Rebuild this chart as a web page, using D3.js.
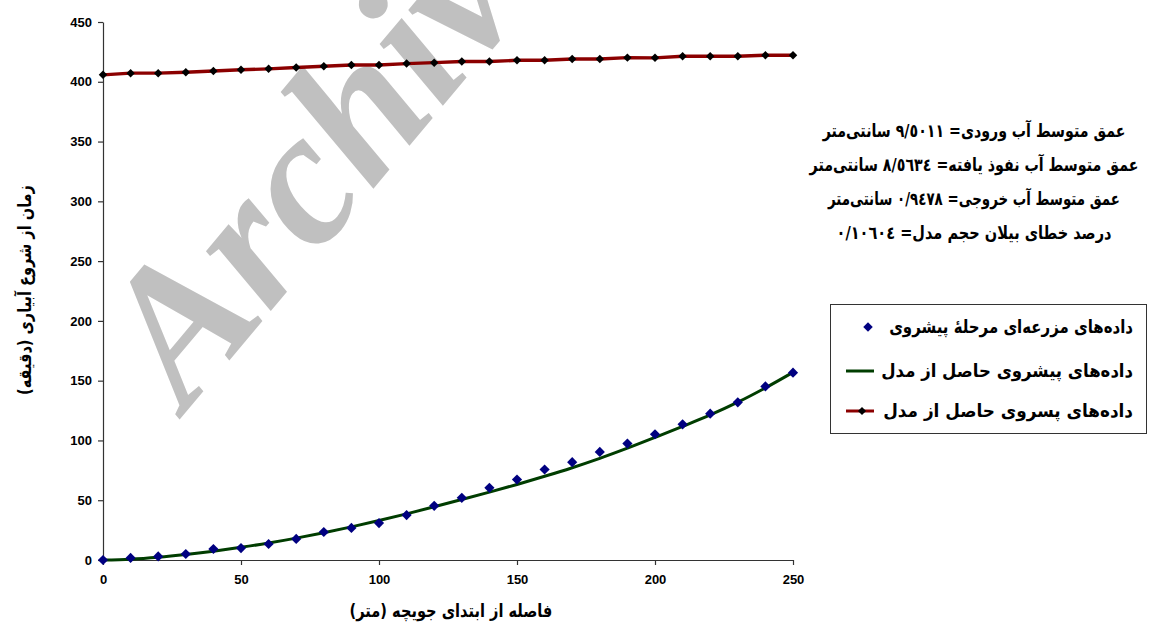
<!DOCTYPE html>
<html lang="fa">
<head>
<meta charset="UTF-8" />
<title>Advance and recession</title>
<script src="https://cdn.jsdelivr.net/npm/d3@7"></script>
<style>
  body { margin: 0; background: #fff; }
  svg { display: block; }
  .tick text { font-family: "Liberation Sans", Arial, sans-serif; font-weight: bold; font-size: 13px; fill: #000; }
  .fa { font-family: "DejaVu Sans", sans-serif; font-weight: bold; fill: #000; }
</style>
</head>
<body>
<svg id="chart"></svg>
<script>
// distance along the furrow (m)
var distance = [0, 10, 20, 30, 40, 50, 60, 70, 80, 90, 100, 110, 120, 130, 140, 150, 160, 170, 180, 190, 200, 210, 220, 230, 240, 250];
// measured advance (min)
var fieldAdvance = [0, 1.7, 3, 5, 9.2, 10, 13.4, 17.6, 23.4, 26.8, 30.9, 37.6, 45.3, 52, 60.4, 67.3, 75.7, 81.8, 90.4, 97.4, 105.2, 113.5, 122.4, 131.9, 145.2, 156.7];
// model advance (min)
var modelAdvance = [0, 0.7, 2.3, 4.6, 7.4, 10.6, 14.2, 18.3, 22.8, 27.7, 33, 38.6, 44.5, 50.6, 56.8, 63.2, 70, 77.2, 85, 93.5, 102.5, 111.7, 121.3, 132, 144, 157];
// model recession (min)
var modelRecession = [405.8, 407.2, 407.2, 408, 409, 410, 410.8, 411.9, 413, 414, 414, 415.2, 416, 416.9, 416.9, 418, 418, 419.1, 419, 420.2, 420, 421.4, 421.4, 421.4, 422.2, 422.2];

var xTicks = [0, 50, 100, 150, 200, 250];
var yTicks = [0, 50, 100, 150, 200, 250, 300, 350, 400, 450];

var statLines = [
  "عمق متوسط آب ورودی= ٩/٥٠١١ سانتی‌متر",
  "عمق متوسط آب نفوذ یافته= ٨/٥٦٣٤ سانتی‌متر",
  "عمق متوسط آب خروجی= ٠/٩٤٧٨ سانتی‌متر",
  "درصد خطای بیلان حجم مدل= ٠/١٠٦٠٤"
];
var legendLabels = [
  "داده‌های مزرعه‌ای مرحلهٔ پیشروی",
  "داده‌های پیشروی حاصل از مدل",
  "داده‌های پسروی حاصل از مدل"
];
var xTitle = "فاصله از ابتدای جویچه (متر)";
var yTitle = "زمان از شروع آبیاری (دقیقه)";

var width = 1164, height = 629;
var svg = d3.select("#chart").attr("width", width).attr("height", height);

var x = d3.scaleLinear().domain([0, 250]).range([103, 793]);
var y = d3.scaleLinear().domain([0, 450]).range([560, 22]);

// squeeze a text sideways so it spans the wanted width, keeping its height
function squeeze(node, pre, target) {
  var w = node.getComputedTextLength();
  d3.select(node).attr("transform", pre + " scale(" + (target / w) + ",1)");
}

// watermark
svg.append("text")
  .attr("transform", "translate(186,412) rotate(-50)")
  .style("font-family", "'Liberation Serif', 'Times New Roman', serif")
  .style("font-weight", "bold").style("font-style", "italic")
  .style("font-size", "192px").attr("fill", "#c0c0c0")
  .text("Archive of SID");

// axes
svg.append("g").attr("transform", "translate(0,560)")
  .call(d3.axisBottom(x).tickValues(xTicks).tickSize(5).tickPadding(10).tickSizeOuter(0));
svg.append("g").attr("transform", "translate(103,0)")
  .call(d3.axisLeft(y).tickValues(yTicks).tickSize(5).tickPadding(6).tickSizeOuter(0));
svg.selectAll(".domain, .tick line").attr("stroke", "#333").attr("stroke-width", 1.2);

// rotated square markers
function diamond(g, size, color) {
  g.attr("d", d3.symbol().type(d3.symbolSquare).size(size)).attr("fill", color);
}

var line = d3.line().x(function (d) { return x(d[0]); }).y(function (d) { return y(d[1]); });

// model advance (green)
svg.append("path")
  .datum(distance.map(function (d, i) { return [d, modelAdvance[i]]; }))
  .attr("fill", "none").attr("stroke", "#003d00").attr("stroke-width", 3)
  .attr("d", line.curve(d3.curveMonotoneX));

// field advance points
svg.append("g").selectAll("path")
  .data(distance.map(function (d, i) { return [d, fieldAdvance[i]]; }))
  .enter().append("path")
  .attr("transform", function (d) { return "translate(" + x(d[0]) + "," + y(d[1]) + ") rotate(45)"; })
  .call(diamond, 52, "#000080");

// model recession (dark red with black markers)
svg.append("path")
  .datum(distance.map(function (d, i) { return [d, modelRecession[i]]; }))
  .attr("fill", "none").attr("stroke", "#8b0000").attr("stroke-width", 3.4)
  .attr("d", line.curve(d3.curveLinear));
svg.append("g").selectAll("path")
  .data(distance.map(function (d, i) { return [d, modelRecession[i]]; }))
  .enter().append("path")
  .attr("transform", function (d) { return "translate(" + x(d[0]) + "," + y(d[1]) + ") rotate(45)"; })
  .call(diamond, 36, "#000");

// axis titles
var xt = svg.append("text").attr("class", "fa")
  .attr("text-anchor", "middle").attr("direction", "rtl").style("font-size", "18px")
  .text(xTitle);
squeeze(xt.node(), "translate(451,617)", 203);
var yt = svg.append("text").attr("class", "fa")
  .attr("text-anchor", "middle").attr("direction", "rtl").style("font-size", "18px")
  .text(yTitle);
squeeze(yt.node(), "translate(31,290) rotate(-90)", 210);

// statistics block
var statWidths = [303, 329, 292, 275];
svg.append("g").selectAll("text")
  .data(statLines).enter().append("text").attr("class", "fa")
  .attr("text-anchor", "middle").attr("direction", "rtl")
  .style("font-size", "18px")
  .text(function (d) { return d; })
  .each(function (d, i) {
    squeeze(this, "translate(974," + (137 + i * 34) + ")", statWidths[i]);
  });

// legend
var legend = svg.append("g");
legend.append("rect").attr("x", 830.5).attr("y", 304.5).attr("width", 316).attr("height", 129)
  .attr("fill", "#fff").attr("stroke", "#333").attr("stroke-width", 1);
var rowsY = [327, 371, 411];
var legWidths = [244, 252, 250];
legend.selectAll("text.fa")
  .data(legendLabels).enter().append("text").attr("class", "fa")
  .attr("text-anchor", "start").attr("direction", "rtl")
  .style("font-size", "18px")
  .text(function (d) { return d; })
  .each(function (d, i) {
    squeeze(this, "translate(1133," + (rowsY[i] + 6) + ")", legWidths[i]);
  });

legend.append("path").attr("transform", "translate(868," + rowsY[0] + ") rotate(45)")
  .call(diamond, 45, "#000080");
legend.append("line").attr("x1", 846).attr("x2", 874).attr("y1", rowsY[1]).attr("y2", rowsY[1])
  .attr("stroke", "#003d00").attr("stroke-width", 3);
legend.append("line").attr("x1", 846).attr("x2", 874).attr("y1", rowsY[2]).attr("y2", rowsY[2])
  .attr("stroke", "#8b0000").attr("stroke-width", 3);
legend.append("path").attr("transform", "translate(862," + rowsY[2] + ") rotate(45)")
  .call(diamond, 34, "#000");
</script>
</body>
</html>
